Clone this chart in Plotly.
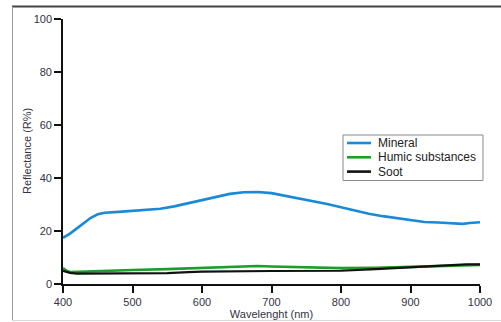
import plotly.graph_objects as go

# Reflectance spectra (%), sampled along wavelength (nm)
mineral_wl = [400, 410, 420, 430, 440, 450, 460, 480, 500, 520, 540, 560, 580, 600,
              620, 640, 660, 680, 700, 720, 740, 760, 780, 800, 820, 840, 860, 880,
              900, 920, 940, 960, 975, 985, 1000]
mineral_r = [17.4, 19.0, 21.0, 23.0, 25.0, 26.3, 26.9, 27.2, 27.6, 28.0, 28.4, 29.3,
             30.5, 31.8, 33.0, 34.0, 34.6, 34.7, 34.3, 33.3, 32.3, 31.3, 30.2, 29.0,
             27.7, 26.5, 25.6, 24.9, 24.2, 23.4, 23.2, 22.8, 22.7, 23.0, 23.3]

humic_wl = [400, 405, 410, 420, 450, 500, 550, 600, 650, 680, 700, 750, 800, 850,
            900, 950, 1000]
humic_r = [6.0, 5.0, 4.5, 4.6, 5.0, 5.3, 5.6, 6.1, 6.6, 6.8, 6.6, 6.3, 6.0, 6.1,
           6.5, 6.9, 7.2]

soot_wl = [400, 410, 420, 450, 500, 550, 580, 600, 700, 800, 850, 900, 950, 980, 1000]
soot_r = [5.0, 4.2, 3.9, 3.9, 4.0, 4.1, 4.5, 4.7, 4.9, 5.0, 5.6, 6.3, 7.0, 7.4, 7.4]

series_names = ["Mineral", "Humic substances", "Soot"]
series_colors = ["#1a8ad6", "#1c9e2a", "#111111"]

x_ticks = [400, 500, 600, 700, 800, 900, 1000]
y_ticks = [0, 20, 40, 60, 80, 100]

FONT = "Liberation Sans, Arial, sans-serif"
TEXT_COLOR = "#333344"

fig = go.Figure()
for wl, r, name, color, w in zip(
        [mineral_wl, humic_wl, soot_wl], [mineral_r, humic_r, soot_r],
        series_names, series_colors, [2.6, 2.6, 2.2]):
    fig.add_trace(go.Scatter(x=wl, y=r, mode="lines", name=name,
                             line=dict(color=color, width=w), showlegend=False))

# plot area in pixels: x 63..480, y 19..284 (figure 501x322)
L, R, T, B = 63, 480, 19, 284
W, H = R - L, B - T


def px(x):
    return (x - L) / W


def py(y):
    return (B - y) / H


shapes = []
# outer frame
shapes.append(dict(type="line", xref="paper", yref="paper", x0=px(12), x1=px(501),
                   y0=py(6.5), y1=py(6.5), line=dict(color="#444444", width=2)))
shapes.append(dict(type="line", xref="paper", yref="paper", x0=px(12.5), x1=px(12.5),
                   y0=py(6.5), y1=py(321), line=dict(color="#9a9a9a", width=1)))
shapes.append(dict(type="line", xref="paper", yref="paper", x0=px(12), x1=px(501),
                   y0=py(320.5), y1=py(320.5), line=dict(color="#d8d8d8", width=1)))

# legend box
shapes.append(dict(type="rect", xref="paper", yref="paper", x0=px(343), x1=px(483),
                   y0=py(135), y1=py(180.5), fillcolor="white",
                   line=dict(color="#8a8a8a", width=1)))
annotations = []
for i, (name, color) in enumerate(zip(series_names, series_colors)):
    yy = 143 + 14.3 * i
    shapes.append(dict(type="line", xref="paper", yref="paper", x0=px(347), x1=px(371),
                       y0=py(yy), y1=py(yy), line=dict(color=color, width=2.6)))
    annotations.append(dict(xref="paper", yref="paper", x=px(376), y=py(yy),
                            xanchor="left", yanchor="middle", text=name, showarrow=False,
                            font=dict(family=FONT, size=12, color="#222222")))

# y-axis title
annotations.append(dict(xref="paper", yref="paper", x=px(26.5), y=0.5,
                        xanchor="center", yanchor="middle", textangle=-90,
                        text="Reflectance (R%)", showarrow=False,
                        font=dict(family=FONT, size=11, color=TEXT_COLOR)))

fig.update_layout(
    width=501, height=322,
    margin=dict(l=L, r=501 - R, t=T, b=322 - B),
    paper_bgcolor="white", plot_bgcolor="white",
    font=dict(family=FONT, size=11, color="#333333"),
    shapes=shapes, annotations=annotations,
    xaxis=dict(range=[400, 1000], tickvals=x_ticks, showgrid=False, zeroline=False,
               automargin=False,
               showline=True, linecolor="#111111", linewidth=1.6,
               ticks="outside", ticklen=7, tickwidth=1.6, tickcolor="#111111",
               tickfont=dict(size=11, color=TEXT_COLOR),
               title=dict(text="Wavelenght (nm)", standoff=0,
                          font=dict(size=11, color=TEXT_COLOR))),
    yaxis=dict(range=[0, 100], tickvals=y_ticks, showgrid=False, zeroline=False,
               automargin=False,
               showline=True, linecolor="#111111", linewidth=1.6,
               ticks="outside", ticklen=7, tickwidth=1.6, tickcolor="#111111",
               tickfont=dict(size=11, color=TEXT_COLOR)),
)

fig.write_html("out.html")
